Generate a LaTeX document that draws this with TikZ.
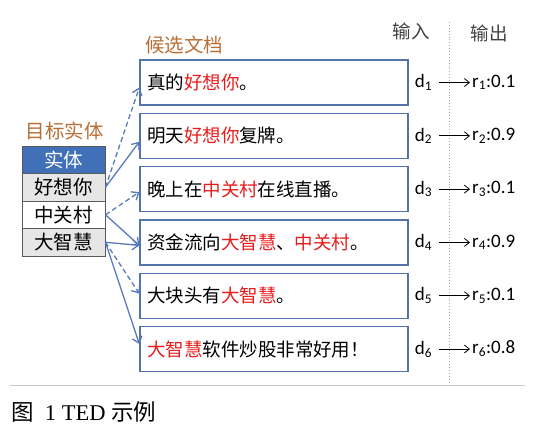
\documentclass[tikz,border=0pt]{standalone}
\usepackage{fontspec}
\setmainfont{Liberation Serif}
\newfontfamily\zhfont{Noto Sans CJK SC}
\newfontfamily\latfont{Carlito}
\usetikzlibrary{arrows.meta}
\definecolor{boxblue}{RGB}{84,114,172}
\definecolor{linkblue}{RGB}{88,122,186}
\definecolor{headblue}{RGB}{63,112,184}
\definecolor{rowgray}{RGB}{230,230,230}
\definecolor{tablegray}{RGB}{90,90,90}
\definecolor{titlebrown}{RGB}{184,110,52}
\definecolor{hitred}{RGB}{232,28,28}
\definecolor{sepblue}{RGB}{150,172,200}
\definecolor{rulegray}{RGB}{200,200,200}
\newcommand{\hit}[1]{\textcolor{hitred}{#1}}

\begin{document}
\begin{tikzpicture}[x=1pt,y=-1pt,
  doc/.style={draw=boxblue, line width=1.3pt, text width=254pt, inner xsep=7pt, inner ysep=0pt,
    minimum height=45pt, align=left, font=\zhfont\fontsize{18.5}{20}\selectfont},
  ent/.style={draw=tablegray, line width=0.9pt, fill=rowgray, minimum width=83pt, minimum height=27.5pt,
    inner sep=0pt, font=\zhfont\fontsize{19.5}{21}\selectfont},
  heading/.style={text=titlebrown, font=\zhfont\fontsize{19.5}{21}\selectfont},
  link/.style={draw=linkblue, line width=1.3pt, -{Straight Barb[length=6pt,width=10pt]}},
  maybe/.style={link, dash pattern=on 5pt off 3pt},
  iolabel/.style={font=\latfont\fontsize{19}{21}\selectfont, inner sep=1pt, anchor=west}]
\useasboundingbox (0,0) rectangle (550,432);

\node[heading] (enttitle) at (65,131) {目标实体};
\node[ent, fill=headblue, text=white] (e0) at (63.5,159.75) {实体};
\node[ent] (e1) at (63.5,187.25) {好想你};
\node[ent, fill=white] (e2) at (63.5,214.75) {中关村};
\node[ent] (e3) at (63.5,242.25) {大智慧};

\node[heading] (doctitle) at (184,45) {候选文档};
\node[doc] (doc1) at (274,82.5) {真的\hit{好想你}。};
\node[doc] (doc2) at (274,135.8) {明天\hit{好想你}复牌。};
\node[doc] (doc3) at (274,189.1) {晚上在\hit{中关村}在线直播。};
\node[doc] (doc4) at (274,242.4) {资金流向\hit{大智慧}、\hit{中关村}。};
\node[doc] (doc5) at (274,295.7) {大块头有\hit{大智慧}。};
\node[doc] (doc6) at (274,349) {\hit{大智慧}软件炒股非常好用！};

\draw[maybe] (e1.east) -- ([yshift=-5pt]doc1.west);
\draw[link] (e1.east) -- ([yshift=-6pt]doc2.west);
\draw[maybe] (e2.east) -- ([yshift=-3pt]doc3.west);
\draw[link] (e2.east) -- ([yshift=-3pt]doc4.west);
\draw[link] (e3.east) -- ([yshift=-3pt]doc4.west);
\draw[maybe] (e3.east) -- ([yshift=2pt]doc5.west);
\draw[link] (e3.east) -- ([yshift=5pt]doc6.west);

\node[font=\zhfont\fontsize{18.5}{20}\selectfont, text=black!75] (intitle) at (411,31) {输入};
\node[font=\zhfont\fontsize{18.5}{20}\selectfont, text=black!75] (outtitle) at (489,33) {输出};
\coordinate (septop) at (449,22);
\coordinate (sepbot) at (449,383);
\draw[sepblue, line width=0.9pt, dotted] (septop) -- (sepbot);

\coordinate (rcol) at (471,0);
\foreach \i/\v in {1/0.1,2/0.9,3/0.1,4/0.9,5/0.1,6/0.8} {
  \node[iolabel] (d\i) at ([xshift=5pt]doc\i.east) {d\textsubscript{\i}};
  \node[iolabel] (r\i) at (rcol |- d\i) {r\textsubscript{\i}:\v};
  \draw[line width=0.8pt, -{Straight Barb[length=5pt,width=8pt]}, shorten <=6pt, shorten >=1pt] (d\i) -- (r\i);
}

\coordinate (ruleleft) at (10,385);
\coordinate (ruleright) at (525,385);
\draw[rulegray, line width=0.9pt] (ruleleft) -- (ruleright);
\node[anchor=west, font=\fontsize{22.5}{24}\selectfont, inner sep=0pt] (caption) at (11,412)
  {{\zhfont 图}\ \ 1 TED {\zhfont 示例}};
\end{tikzpicture}
\end{document}
